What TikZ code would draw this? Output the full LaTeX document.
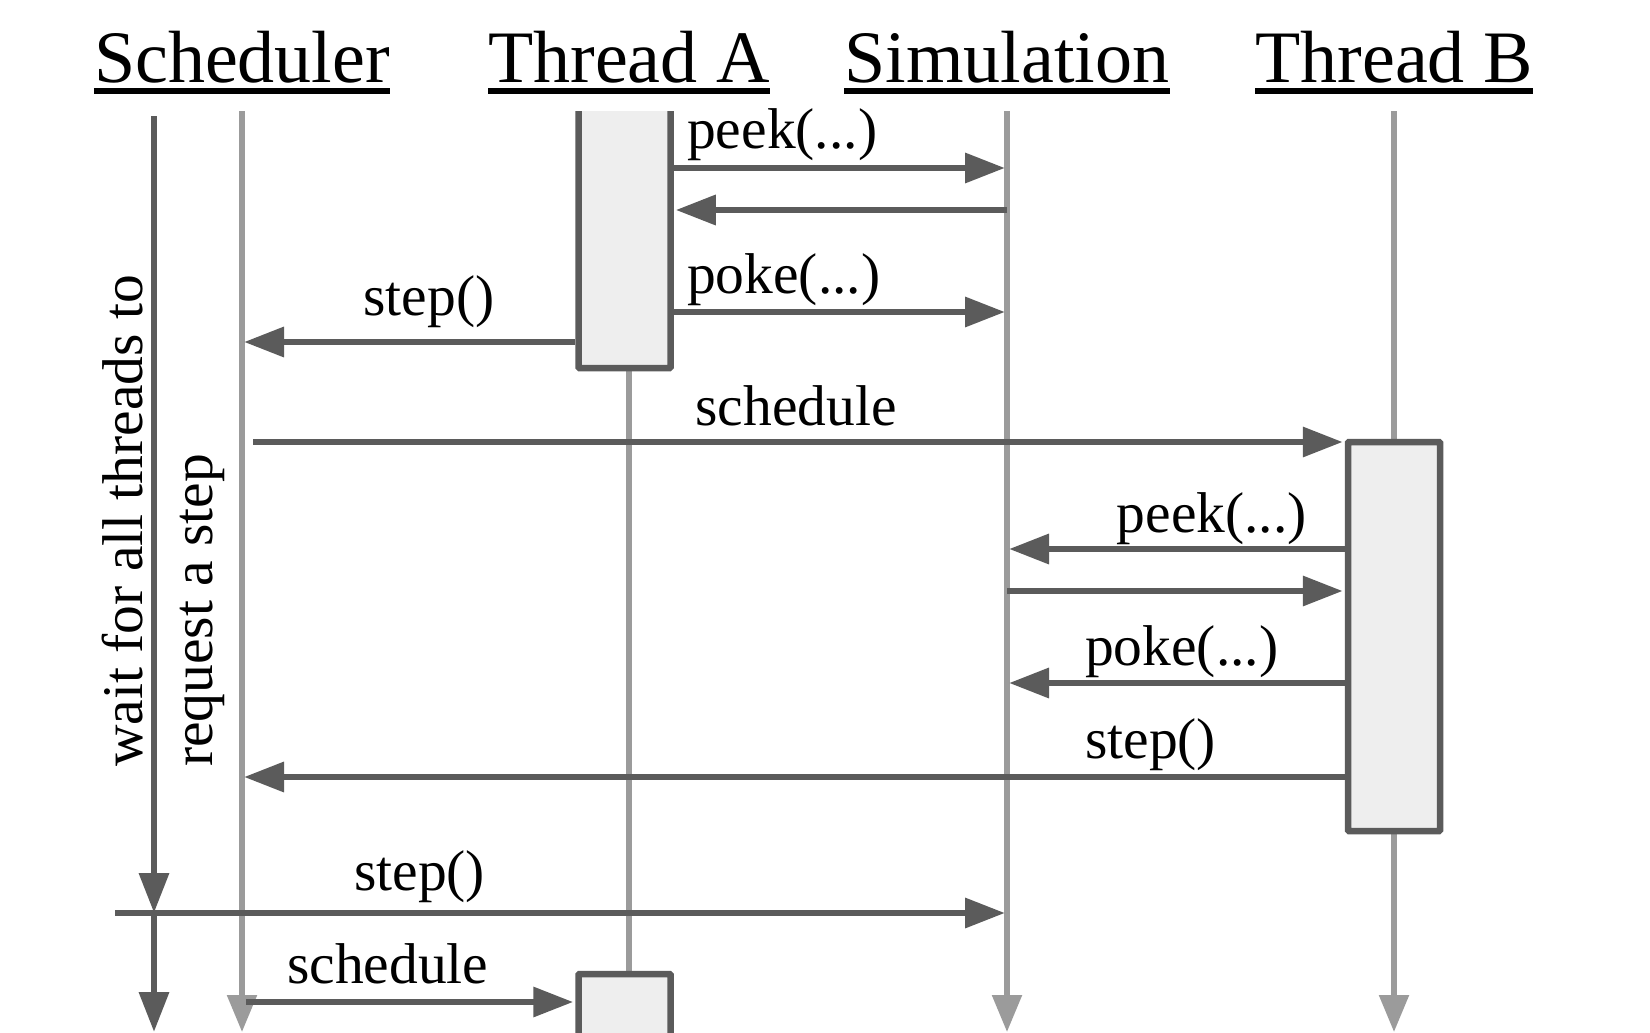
\documentclass[tikz,border=0pt]{standalone}
\usepackage{fontspec}
\setmainfont{Liberation Serif}
\usetikzlibrary{arrows.meta}

\definecolor{msgGray}{HTML}{5B5B5B}
\definecolor{lifeGray}{HTML}{9B9B9B}
\definecolor{boxFill}{HTML}{EEEEEE}
\newcommand{\headFont}{\fontsize{74}{80}\selectfont}
\newcommand{\msgFont}{\fontsize{57.5}{62}\selectfont}

\begin{document}
\begin{tikzpicture}[x=1pt, y=-1pt, >={Triangle[length=40pt, width=29pt]}]
  \tikzstyle{head} = [font=\headFont, inner sep=0pt, anchor=base]
  \tikzstyle{underLine} = [black, line width=6pt]
  \tikzstyle{lifeLine} = [lifeGray, line width=5.5pt, -{Triangle[length=37pt, width=29pt]}]
  \tikzstyle{waitLine} = [msgGray, line width=6.5pt, ->]
  \tikzstyle{activation} = [draw=msgGray, fill=boxFill, line width=6.5pt, rounded corners=1pt, inner sep=0pt, minimum width=92pt]
  \tikzstyle{msgEdge} = [msgGray, line width=6.5pt, ->, shorten >=2pt]
  \tikzstyle{msgLabel} = [font=\msgFont, inner sep=0pt]

  \useasboundingbox (0,0) rectangle (1650,1033);
  \clip (0,0) rectangle (1650,1033);

  % headings
  \node[head] (sch) at (242,82)  {Scheduler};
  \node[head] (thA) at (629,82)  {Thread A};
  \node[head] (sim) at (1007,82) {Simulation};
  \node[head] (thB) at (1394,82) {Thread B};
  \foreach \h in {sch,thA,sim,thB}
    \draw[underLine] ([yshift=-9pt]\h.base west) -- ([yshift=-9pt]\h.base east);

  % lifelines
  \coordinate (schTop) at (242,111);
  \coordinate (thATop) at (629,111);
  \coordinate (simTop) at (1007,111);
  \coordinate (thBTop) at (1394,111);
  \coordinate (bottom) at (0,1032);
  \draw[lifeLine] (schTop) -- (schTop |- bottom);
  \draw[lifeLine] (simTop) -- (simTop |- bottom);
  \draw[lifeLine] (thBTop) -- (thBTop |- bottom);
  \draw[lifeGray, line width=5.5pt] (thATop) -- (thATop |- bottom);

  % scheduler waits
  \coordinate (waitTop) at (154,116);
  \coordinate (waitMid) at (154,913);
  \coordinate (waitEnd) at (154,1032);
  \draw[waitLine] (waitTop) -- (waitMid);
  \draw[waitLine] (waitMid) -- (waitEnd);
  \node[msgLabel, rotate=90, anchor=base west] (waitTxt) at (142,767) {wait for all threads to};
  \node[msgLabel, rotate=90, anchor=base west] (reqTxt)  at (212,767) {request a step};

  % activations
  \begin{scope}
    \clip (0,111) rectangle (1650,1033);
    \node[activation, minimum height=268pt] (actA) at (624.5,234) {};
  \end{scope}
  \node[activation, minimum height=389pt] (actB)  at (1394,636.5) {};
  \node[activation, minimum height=106pt] (actA2) at (624.5,1027) {};

  % message rows
  \coordinate (r1) at (0,168);
  \coordinate (r2) at (0,210);
  \coordinate (r3) at (0,312);
  \coordinate (r4) at (0,342);
  \coordinate (r5) at (0,442);
  \coordinate (r6) at (0,549);
  \coordinate (r7) at (0,591);
  \coordinate (r8) at (0,683);
  \coordinate (r9) at (0,777);
  \coordinate (r10) at (0,913);
  \coordinate (r11) at (0,1002);
  \coordinate (stepStart) at (115,913);

  % thread A
  \draw[msgEdge] (actA.east |- r1) -- (simTop |- r1);
  \draw[msgEdge] (simTop |- r2) -- (actA.east |- r2);
  \draw[msgEdge] (actA.east |- r3) -- (simTop |- r3);
  \draw[msgEdge] (actA.west |- r4) -- (schTop |- r4);
  \node[msgLabel, anchor=base west] (lPeekA) at (687,148) {peek(...)};
  \node[msgLabel, anchor=base west] (lPokeA) at (687,293) {poke(...)};
  \node[msgLabel, anchor=base] (lStepA) at (429,315) {step()};

  % thread B
  \draw[msgEdge] ([xshift=11pt]schTop |- r5) -- (actB.west |- r5);
  \draw[msgEdge] (actB.west |- r6) -- (simTop |- r6);
  \draw[msgEdge] (simTop |- r7) -- (actB.west |- r7);
  \draw[msgEdge] (actB.west |- r8) -- (simTop |- r8);
  \draw[msgEdge] (actB.west |- r9) -- (schTop |- r9);
  \node[msgLabel, anchor=base] (lSchedB) at (796,425) {schedule};
  \node[msgLabel, anchor=base east] (lPeekB) at (1307,532) {peek(...)};
  \node[msgLabel, anchor=base west] (lPokeB) at (1085,665) {poke(...)};
  \node[msgLabel, anchor=base west] (lStepB) at (1085,758) {step()};

  % next step
  \draw[msgEdge] (stepStart) -- (simTop |- r10);
  \draw[msgEdge] ([xshift=4pt]schTop |- r11) -- (actA2.west |- r11);
  \node[msgLabel, anchor=base west] (lStepS) at (354,890) {step()};
  \node[msgLabel, anchor=base west] (lSchedA) at (287,983) {schedule};
\end{tikzpicture}
\end{document}
